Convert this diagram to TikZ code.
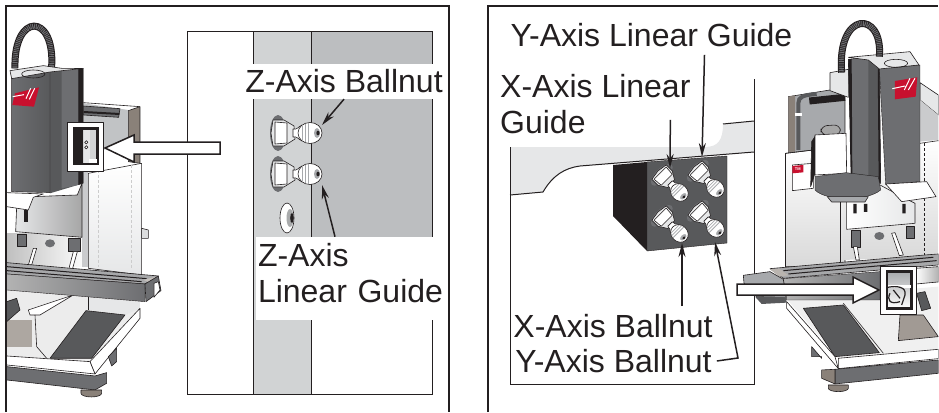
\documentclass[tikz,border=0pt]{standalone}
\usepackage{fontspec}
\setmainfont{Liberation Sans}
\usetikzlibrary{arrows.meta}
\usetikzlibrary{positioning}
\definecolor{inkblack}{HTML}{231F20}
\definecolor{bandlight}{HTML}{D1D3D4}
\definecolor{banddark}{HTML}{BCBEC0}
\definecolor{castgray}{HTML}{E6E7E8}
\definecolor{blockface}{HTML}{58595B}
\definecolor{steelmid}{HTML}{A7A9AC}
\definecolor{steeldark}{HTML}{6D6E71}
\definecolor{panelbrown}{HTML}{8A8179}
\definecolor{logored}{HTML}{C8102E}
\tikzset {
  panel line/.style = {
    draw = inkblack,
    line width = 1.5pt
  },
  inset line/.style = {
    draw = inkblack,
    line width = 1pt
  },
  % leader with a long narrow tip
  leader/.style = {
    draw = inkblack,
    line width = 1.5pt,
    -{Stealth[length = 14pt, width = 7pt]}
  },
  % white pointer that leads to the zoomed part
  pointer/.style = {
    draw = inkblack,
    fill = white,
    line width = 1.5pt,
    line join = miter
  },
  callout/.style = {
    font = \fontsize{32}{36}\selectfont,
    text = inkblack,
    align = left,
    inner sep = 0pt
  },
  part/.style = {
    draw = inkblack,
    line width = .6pt,
    line join = round
  },
  hose/.style = {
    draw = inkblack,
    line width = 7pt,
    postaction = {
      draw = steeldark,
      line width = 5pt,
      dash pattern = on .9pt off .9pt
    }
  }
}
% grease fitting: nut centre at #1,#2
\newcommand{\greasefitting}[4]{
  \begin{scope}[shift = {(#1,#2)}, rotate = #3, scale = #4]
    \fill[steeldark] (-4,0) ellipse (8 and 18);
    \draw[part, fill = castgray] (-9,-13) -- (2,-13) -- (12,-7) -- (13,6) -- (2,13) -- (-9,13) -- (-11,0) -- cycle;
    \draw[part, fill = white] (-7,-11) -- (5,-10) -- (5,10) -- (-7,11) -- cycle;
    \draw[part, fill = white] (11,-4) .. controls (15,-3) and (16,-6) .. (20,-8) -- (20,8) .. controls (16,6) and (15,3) .. (11,4) -- cycle;
    \draw[part, fill = white] (28,0) ellipse (12 and 10.5);
    \draw[steelmid, line width = .8pt] (20,-7) -- (20,7) (23,-9) -- (23,9) (26,-10) -- (26,10);
    \fill[steelmid] (35,0) ellipse (3 and 5);
    \fill[inkblack] (36,0) ellipse (1.6 and 2.4);
  \end{scope}
}
\begin{document}
\begin{tikzpicture}[x = 1pt, y = -1pt]
  \useasboundingbox (0,0) rectangle (939,412);

  % left inset
  \fill[bandlight] (253,32) rectangle (311,394);
  \fill[banddark] (311,32) rectangle (432,237);
  \draw[inset line] (311,32) -- (311,394);
  \draw[inset line] (253,32) -- (253,394);
  \draw[inset line] (187,32) rectangle (432,394);
  \greasefitting{282}{133}{0}{1}
  \greasefitting{282}{174}{0}{1}
  \draw[part, fill = white] (287,218) ellipse (7 and 15);
  \fill[bandlight!60!steeldark] (290,218) ellipse (3.5 and 9);
  \fill[inkblack] (292,218) ellipse (1.8 and 5);
  \coordinate (zballnut-tip) at (322,125);
  \coordinate (zguide-tip) at (322,185);
  \node[callout, fill = white, minimum width = 202pt, minimum height = 35pt, align = center] (zballnut) at (344,81.5) {Z-Axis Ballnut};
  \node[callout, fill = white, text width = 186pt, text depth = 47pt, minimum height = 83pt, inner xsep = 2pt] (zguide) at (351,278.5) {Z-Axis\\Linear Guide};
  \draw[leader] (zballnut.south) -- (zballnut-tip);
  \draw[leader] ([xshift = -16pt]zguide.north) -- (zguide-tip);

  % left machine
  \begin{scope}[x = .3333pt, y = -.3333pt]
    \clip (18,18) rectangle (560,1236);
    % back panel
    \fill[steelmid!70] (250,310) -- (385,330) -- (385,420) -- (310,450) -- (250,500) -- cycle;
    \draw[part, fill = panelbrown] (385,332) -- (420,320) -- (420,490) -- (385,485) -- cycle;
    \draw[part, fill = steeldark] (250,318) -- (360,326) -- (356,352) -- (250,345) -- cycle;
    \draw[inkblack, line width = 2pt] (250,336) -- (358,342);
    \draw[part] (250,308) -- (420,320);
    % column
    \shade[left color = gray!50, right color = white] (20,700) rectangle (265,800);
    \fill[steelmid!60] (245,515) rectangle (265,800);
    \draw[part, top color = white, bottom color = castgray] (265,520) -- (425,490) -- (425,825) -- (265,805) -- cycle;
    \draw[gray!40, densely dashed] (295,510) -- (295,800) (393,495) -- (393,810);
    \draw[part, fill = steelmid!40] (425,685) -- (445,690) -- (445,715) -- (425,715) -- cycle;
    % head
    \fill[blockface] (150,215) -- (250,205) -- (250,550) -- (150,580) -- cycle;
    \fill[steeldark] (185,212) -- (235,207) -- (235,555) -- (185,565) -- cycle;
    \fill[inkblack] (235,207) -- (250,205) -- (250,550) -- (235,555) -- cycle;
    \shade[left color = steeldark, middle color = steelmid, right color = blockface, draw = inkblack] (35,235) -- (150,215) -- (150,578) -- (35,575) -- cycle;
    \draw[part, fill = castgray] (30,212) -- (130,197) -- (185,205) -- (250,205) -- (150,216) -- (35,236) -- cycle;
    \draw[part] (100,222) ellipse (35 and 12);
    \draw[hose] (45,205) .. controls (40,37) and (165,37) .. (155,200);
    \fill[logored] (45,280) -- (117,262) -- (102,320) -- (37,315) -- cycle;
    \draw[white, line width = 1pt] (38,290) -- (72,284) (78,296) -- (92,265) (88,298) -- (104,265);
    % spindle housing
    \draw[part, left color = castgray, right color = gray!70] (47,695) -- (50,620) -- (100,590) -- (232,585) -- (246,550) -- (246,712) -- cycle;
    \draw[part, fill = white] (20,578) -- (130,582) -- (100,592) -- (85,630) -- (20,620) -- cycle;
    \fill[inkblack] (72,630) rectangle (85,665);
    \draw[part, fill = steeldark] (52,702) rectangle (80,740);
    \draw[part, fill = steeldark] (205,715) rectangle (240,755);
    \fill[steeldark] (150,730) ellipse (15 and 12);
    \draw[part, fill = white] (100,745) -- (110,745) -- (95,795) -- (85,795) -- cycle;
    \draw[part, fill = white] (220,755) -- (232,755) -- (218,805) -- (207,805) -- cycle;
    % lower body
    \fill[white!85!gray] (20,870) -- (265,890) -- (420,925) -- (420,950) -- (270,1085) -- (20,1075) -- cycle;
    \fill[castgray] (265,890) -- (420,905) -- (420,925) -- (375,945) -- (265,932) -- cycle;
    \draw[part] (265,890) -- (265,930);
    \fill[panelbrown!70] (20,960) rectangle (95,1040);
    \draw[part, fill = blockface] (20,905) -- (50,895) -- (60,930) -- (20,965) -- cycle;
    \draw[part, fill = white] (85,930) -- (220,885) -- (120,945) -- (90,945) -- cycle;
    \draw[part] (105,945) -- (110,1040) -- (140,1075);
    \draw[part, fill = blockface] (258,932) -- (375,945) -- (275,1075) -- (150,1075) -- cycle;
    \draw[part, fill = white] (420,925) -- (420,955) -- (285,1122) -- (270,1085) -- cycle;
    \draw[part, fill = white] (20,1068) -- (270,1085) -- (285,1122) -- (20,1095) -- cycle;
    \draw[part, fill = steeldark] (20,1100) -- (285,1128) -- (320,1118) -- (320,1150) -- (285,1170) -- (20,1140) -- cycle;
    \draw[part, fill = steeldark] (325,1070) -- (350,1045) -- (350,1085) -- (335,1098) -- cycle;
    \draw[part, fill = panelbrown] (243,1180) -- (243,1170) -- (305,1170) -- (305,1180) arc (0:180:31 and 11) -- cycle;
    % table
    \draw[part, fill = steeldark!60] (20,788) -- (475,828) -- (435,852) -- (20,822) -- cycle;
    \draw[inkblack, line width = 1pt] (20,800) -- (440,836) (20,812) -- (425,845);
    \fill[panelbrown!50] (430,840) -- (475,828) -- (450,848) -- cycle;
    \shade[left color = gray!60, middle color = white, right color = steeldark, draw = inkblack] (20,822) -- (435,852) -- (435,905) -- (20,870) -- cycle;
    \draw[part, fill = steeldark] (435,852) -- (475,828) -- (483,872) -- (438,905) -- cycle;
    \draw[part, fill = white] (462,850) -- (475,845) -- (480,870) -- (462,892) -- cycle;
    % zoomed part frame
    \draw[part, fill = white] (201,366) rectangle (310,514);
    \draw[inkblack, line width = 2.5pt, fill = steelmid!50] (222,386) rectangle (293,492);
    \fill[inkblack] (224,388) rectangle (250,490);
    \fill[castgray] (252,390) -- (270,390) -- (270,490) -- (252,490) -- cycle;
    \fill[white] (268,478) rectangle (290,490);
    \draw[part, fill = white] (259,427) circle (5) (259,442) circle (5);
  \end{scope}
  \coordinate (leftpoint-tip) at (105,148);
  \draw[pointer] (220,142) -- (134,142) -- (134,135) -- (leftpoint-tip) -- (134,162) -- (134,154) -- (220,154) -- cycle;

  % right inset
  \fill[castgray] (510,147) -- (705,147) .. controls (718,147) and (723,140) .. (723,124) -- (754,121) -- (754,152) -- (580,166) .. controls (565,168) and (553,175) .. (543,192) -- (510,195) -- cycle;
  \draw[inset line] (510,195) -- (543,192) .. controls (553,175) and (565,168) .. (580,166) -- (754,152);
  \draw[inset line] (723,124) -- (754,121);
  \draw[inset line] (510,147) -- (510,384) -- (754,384) -- (754,79);
  \fill[inkblack] (613,165) -- (647,162) -- (647,251) -- (613,216) -- cycle;
  \fill[blockface] (647,162) -- (727,156) -- (727,243) -- (647,251) -- cycle;
  \draw[inkblack] (647,162) -- (727,156) -- (727,243) -- (647,251) -- cycle;
  \greasefitting{664}{177}{-45}{.78}
  \greasefitting{700}{173}{-45}{.78}
  \greasefitting{664}{218}{-45}{.78}
  \greasefitting{700}{213}{-45}{.78}
  \node[callout] (yguide) at (651.5,35) {Y-Axis Linear Guide};
  \node[callout, anchor = north west] (xguide) at (500,74) {X-Axis Linear\\Guide};
  \node[callout] (xballnut) at (613,326) {X-Axis Ballnut};
  \node[callout, inner xsep = 5pt] (yballnut) at (613.5,361) {Y-Axis Ballnut};
  \coordinate (yguide-tip) at (702,157);
  \coordinate (xguide-tip) at (670,168);
  \coordinate (xballnut-tip) at (682,243);
  \coordinate (yballnut-bend) at (738,358);
  \coordinate (yballnut-tip) at (715,242);
  \draw[leader] ([xshift = 53pt, yshift = -8pt]yguide.south) -- (yguide-tip);
  \draw[leader] ([xshift = 75pt, yshift = 14pt]xguide.south) -- (xguide-tip);
  \draw[leader] ([xshift = 69pt, yshift = 8pt]xballnut.north) -- (xballnut-tip);
  \draw[leader] (yballnut.east) -- (yballnut-bend) -- (yballnut-tip);

  % right machine
  \begin{scope}[shift = {(720,0)}, x = .3333pt, y = -.3333pt]
    \clip (35,18) rectangle (655,1236);
    % back panel
    \draw[part, fill = steelmid] (205,290) -- (330,270) -- (375,290) -- (375,450) -- (205,460) -- cycle;
    \fill[panelbrown] (205,290) -- (225,286) -- (225,455) -- (205,458) -- cycle;
    \draw[blockface, line width = 4pt] (235,450) -- (235,310) .. controls (235,290) and (250,285) .. (290,282);
    \fill[white] (226,340) rectangle (246,348);
    \draw[inkblack, line width = 7pt] (268,303) -- (375,292);
    \draw[part, fill = castgray] (600,248) -- (655,285) -- (655,345) -- (600,300) -- cycle;
    \fill[steelmid!60] (600,300) -- (655,345) -- (655,425) -- (600,430) -- cycle;
    % column
    \shade[part, top color = white, bottom color = gray!30] (197,460) -- (280,450) -- (375,448) -- (375,800) -- (197,800) -- cycle;
    \draw[part, line width = 1.2pt] (197,460) -- (197,800);
    \draw[part] (197,460) -- (280,450);
    \draw[part] (362,600) -- (362,790);
    \shade[top color = white, bottom color = gray!30] (600,425) -- (655,420) -- (655,770) -- (370,780) -- (370,600) -- cycle;
    \draw[inkblack, densely dashed, line width = 1pt] (615,430) -- (615,765);
    \draw[part] (600,430) -- (655,422);
    \draw[part, fill = white] (217,495) -- (280,490) -- (280,565) -- (217,572) -- cycle;
    \fill[logored] (217,498) -- (250,495) -- (250,517) -- (217,520) -- cycle;
    \node[font = \fontsize{4}{4}\selectfont\bfseries, text = white, inner sep = 0pt] (tmtag) at (233.5,507) {TM};
    % head
    \draw[part, fill = castgray] (330,218) -- (385,208) -- (385,292) -- (330,272) -- cycle;
    \draw[part, fill = steeldark] (385,178) -- (478,168) -- (482,550) -- (395,525) -- cycle;
    \fill[inkblack] (385,178) -- (395,177) -- (397,525) -- (392,525) -- cycle;
    \fill[blockface] (445,172) -- (475,168) -- (478,540) -- (445,530) -- cycle;
    \fill[inkblack] (473,168) -- (478,168) -- (482,548) -- (476,545) -- cycle;
    \shade[left color = steeldark, middle color = steelmid, right color = steeldark, draw = inkblack] (478,205) -- (600,195) -- (600,545) -- (497,553) -- cycle;
    \draw[part, fill = castgray] (385,172) -- (570,155) -- (597,195) -- (478,207) -- (445,180) -- cycle;
    \draw[part] (528,190) ellipse (35 and 12);
    \draw[hose] (365,218) .. controls (350,30) and (490,30) .. (478,170);
    \fill[logored] (525,243) -- (592,232) -- (587,290) -- (525,298) -- cycle;
    \draw[white, line width = 1pt] (517,266) -- (555,258) (553,270) -- (570,235) (565,270) -- (585,235);
    % spindle
    \draw[part, fill = gray!70, rounded corners = 6pt] (303,405) -- (303,378) -- (360,374) -- (362,405) -- cycle;
    \draw[part, fill = inkblack] (275,425) -- (288,405) -- (288,510) -- (272,560) -- cycle;
    \draw[part, fill = white] (285,405) -- (378,400) -- (380,520) -- (285,525) -- cycle;
    % housing
    \draw[part, left color = white, right color = castgray] (380,600) -- (480,555) -- (545,590) -- (585,610) -- (585,670) -- (380,688) -- cycle;
    \shade[left color = steeldark, middle color = castgray, right color = steeldark, draw = inkblack] (285,530) -- (378,518) -- (475,530) -- (482,570) .. controls (440,605) and (320,605) .. (285,570) -- cycle;
    \draw[part, fill = steelmid] (322,590) -- (445,590) -- (435,606) -- (335,606) -- cycle;
    \draw[part, fill = white] (497,552) -- (620,545) -- (648,590) -- (545,605) -- cycle;
    \fill[inkblack] (400,612) rectangle (410,640) (432,612) rectangle (442,636) (547,612) rectangle (557,640);
    \draw[part, fill = steeldark] (395,690) rectangle (420,742);
    \draw[part, fill = steeldark] (558,678) rectangle (582,715);
    \fill[steeldark] (478,708) ellipse (15 and 12);
    \draw[part, fill = white] (400,740) -- (412,740) -- (418,780) -- (408,780) -- cycle;
    \draw[part, fill = white] (515,700) -- (525,698) -- (550,765) -- (538,767) -- cycle;
    % lower body
    \fill[white!88!gray] (200,897) -- (655,860) -- (655,1050) -- (355,1075) -- cycle;
    \draw[part, fill = blockface] (250,925) -- (370,915) -- (478,1058) -- (345,1070) -- cycle;
    \draw[part] (370,910) -- (490,1060);
    \draw[part, fill = white] (200,905) -- (345,1070) -- (355,1106) -- (200,925) -- cycle;
    \draw[part, fill = panelbrown!80] (540,945) -- (610,945) -- (655,1010) -- (535,1022) -- cycle;
    \draw[part, fill = blockface] (590,880) -- (615,875) -- (632,925) -- (605,932) -- cycle;
    \draw[part, fill = white] (355,1075) -- (655,1048) -- (655,1076) -- (355,1106) -- cycle;
    \draw[part, fill = steeldark] (345,1108) -- (655,1080) -- (655,1120) -- (345,1152) -- cycle;
    \draw[part, fill = steeldark] (275,1040) -- (305,1075) -- (305,1070) -- (275,1070) -- cycle;
    \draw[part, fill = panelbrown] (305,1110) -- (345,1108) -- (345,1152) -- (305,1135) -- cycle;
    \draw[part, fill = panelbrown] (325,1160) -- (325,1155) -- (385,1155) -- (385,1165) arc (0:180:30 and 10) -- cycle;
    % table
    \draw[part, fill = steeldark!60] (150,806) -- (615,765) -- (655,762) -- (655,795) -- (190,835) -- cycle;
    \fill[panelbrown!60] (150,808) -- (178,806) -- (205,826) -- (178,830) -- cycle;
    \draw[inkblack, line width = 1pt] (190,812) -- (640,772) (205,822) -- (650,782);
    \shade[left color = gray!60, middle color = white, right color = steeldark, draw = inkblack] (190,836) -- (480,815) -- (480,900) -- (200,900) -- cycle;
    \draw[part, left color = white, right color = gray!60] (588,805) -- (655,800) -- (655,846) -- (588,852) -- cycle;
    \draw[part, fill = steelmid] (70,826) -- (150,815) -- (190,838) -- (198,892) -- (110,890) -- (72,850) -- cycle;
    \fill[blockface] (105,890) -- (198,892) -- (200,908) -- (125,912) -- cycle;
    % zoomed part frame
    \draw[part, fill = white] (482,800) rectangle (588,942);
    \draw[inkblack, line width = 2.5pt, top color = steelmid, bottom color = white] (501,815) rectangle (574,925);
    \fill[white] (503,856) rectangle (572,864);
    \draw[inkblack, line width = 1.2pt] (503,862) .. controls (530,857) and (560,860) .. (555,885) -- (545,915) (510,880) .. controls (500,900) and (510,915) .. (540,905) (520,870) -- (540,895);
  \end{scope}
  \coordinate (rightpoint-tip) at (879,290);
  \draw[pointer] (737,284) -- (853,284) -- (853,277) -- (rightpoint-tip) -- (853,303) -- (853,295) -- (737,295) -- cycle;

  % frames
  \draw[panel line] (6,412) -- (6,6) -- (449,6) -- (449,412);
  \draw[panel line] (488,412) -- (488,6) -- (938,6);
\end{tikzpicture}
\end{document}
